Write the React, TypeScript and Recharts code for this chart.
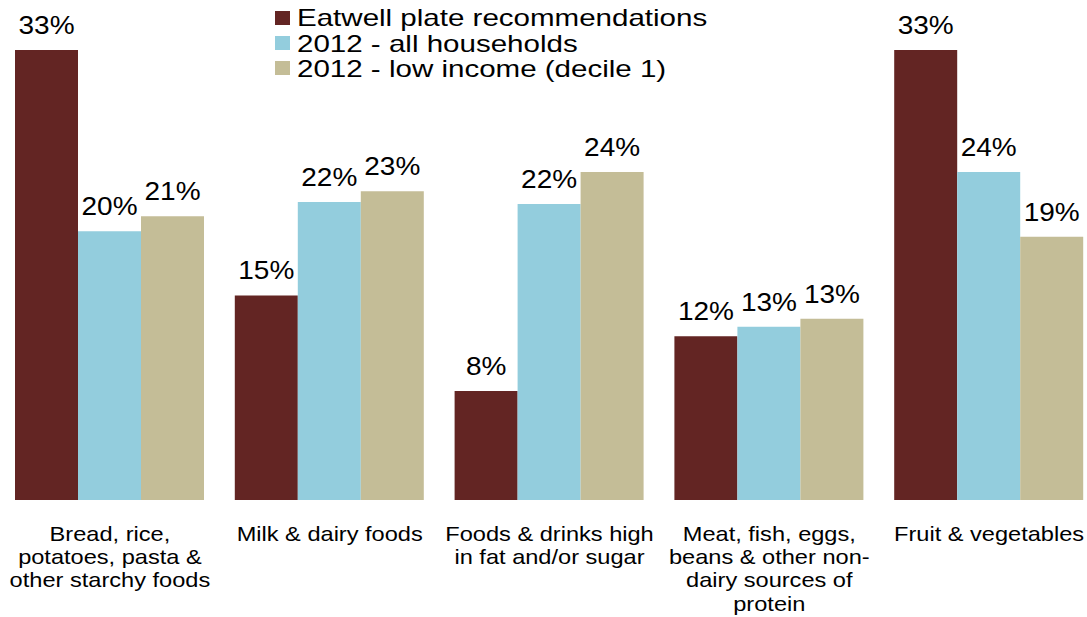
import React from 'react';
import { BarChart, Bar, XAxis, YAxis, Legend, LabelList } from 'recharts';

const categories = [
  'Bread, rice, potatoes, pasta & other starchy foods',
  'Milk & dairy foods',
  'Foods & drinks high in fat and/or sugar',
  'Meat, fish, eggs, beans & other non-dairy sources of protein',
  'Fruit & vegetables',
];
const categoryLines = [
  ['Bread, rice,', 'potatoes, pasta &', 'other starchy foods'],
  ['Milk & dairy foods'],
  ['Foods & drinks high', 'in fat and/or sugar'],
  ['Meat, fish, eggs,', 'beans & other non-', 'dairy sources of', 'protein'],
  ['Fruit & vegetables'],
];
const eatwell = [33, 15, 8, 12, 33];
const allHouseholds = [19.7, 21.85, 21.7, 12.7, 24.05];
const lowIncome = [20.8, 22.65, 24.05, 13.3, 19.3];
const seriesNames = ['Eatwell plate recommendations', '2012 - all households', '2012 - low income (decile 1)'];
const colors = ['#632523', '#93CDDD', '#C4BD97'];

const data = categories.map((name, i) => ({
  name,
  eatwell: eatwell[i],
  all: allHouseholds[i],
  low: lowIncome[i],
}));

const FONT = '"Liberation Sans", Arial, sans-serif';

const CategoryTick = (props: any) => {
  const { x, y, payload } = props;
  const idx = categories.indexOf(payload.value);
  const lines = idx >= 0 ? categoryLines[idx] : [String(payload.value)];
  return (
    <g transform={`translate(${x},${y}) scale(1.18,1)`}>
      <text x={0} y={0} textAnchor="middle" fontFamily={FONT} fontSize={20} fill="#000">
        {lines.map((l, k) => (
          <tspan key={k} x={0} y={33 + k * 23.2}>
            {l}
          </tspan>
        ))}
      </text>
    </g>
  );
};

const ValueLabel = (props: any) => {
  const { x, y, width, value } = props;
  const cx = Number(x) + Number(width) / 2;
  const cy = Number(y) - 16;
  return (
    <g transform={`translate(${cx},${cy}) scale(1.12,1)`}>
      <text x={0} y={0} textAnchor="middle" fontFamily={FONT} fontSize={25} fill="#000">
        {`${Math.round(Number(value))}%`}
      </text>
    </g>
  );
};

const LegendContent = () => (
  <div style={{ position: 'absolute', left: 275, top: 5, fontFamily: FONT }}>
    {seriesNames.map((n, i) => (
      <div key={n} style={{ display: 'flex', alignItems: 'center', height: 25.4, whiteSpace: 'nowrap' }}>
        <div style={{ width: 15, height: 14, background: colors[i], marginRight: 7, flex: 'none' }} />
        <span
          style={{
            fontSize: 24,
            lineHeight: '25px',
            display: 'inline-block',
            transform: 'scaleX(1.23)',
            transformOrigin: 'left center',
            color: '#000',
          }}
        >
          {n}
        </span>
      </div>
    ))}
  </div>
);

export default function App() {
  return (
    <div style={{ position: 'absolute', left: 0, top: 0, width: 1087, height: 617, overflow: 'hidden', background: '#fff' }}>
      <BarChart
        width={1099}
        height={617}
        data={data}
        margin={{ top: 50, right: 0, left: 0, bottom: 0 }}
        barGap={0}
      >
        <XAxis
          dataKey="name"
          axisLine={false}
          tickLine={false}
          interval={0}
          height={117}
          tick={<CategoryTick />}
        />
        <YAxis hide domain={[0, 33]} type="number" />
        <Legend
          layout="horizontal"
          verticalAlign="middle"
          align="center"
          wrapperStyle={{ position: 'absolute', top: 0, left: 0, width: 'auto', height: 'auto' }}
          content={<LegendContent />}
        />
        <Bar dataKey="eatwell" name={seriesNames[0]} fill={colors[0]} barSize={63} isAnimationActive={false}>
          <LabelList dataKey="eatwell" content={<ValueLabel />} />
        </Bar>
        <Bar dataKey="all" name={seriesNames[1]} fill={colors[1]} barSize={63} isAnimationActive={false}>
          <LabelList dataKey="all" content={<ValueLabel />} />
        </Bar>
        <Bar dataKey="low" name={seriesNames[2]} fill={colors[2]} barSize={63} isAnimationActive={false}>
          <LabelList dataKey="low" content={<ValueLabel />} />
        </Bar>
      </BarChart>
    </div>
  );
}
